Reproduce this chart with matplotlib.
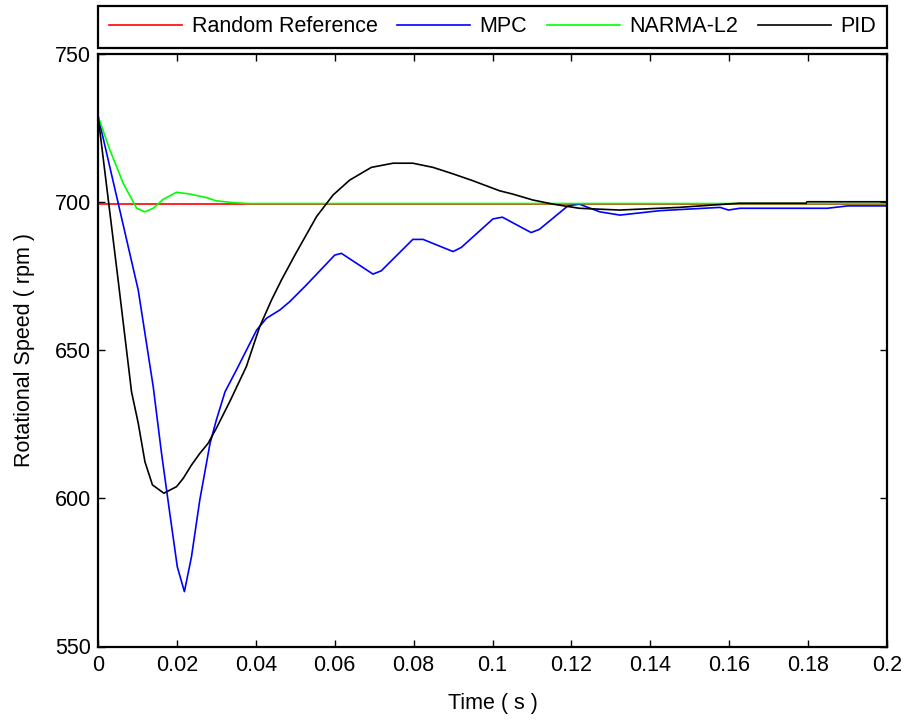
import matplotlib
matplotlib.use("Agg")
import matplotlib.pyplot as plt

plt.rcParams['font.family'] = ['Liberation Sans', 'DejaVu Sans']

# ---- data ----
t_end = 0.2
ref_value = 699.3

narma_t = [0.0, 0.003, 0.0064, 0.0098, 0.0119, 0.014, 0.0165, 0.0199, 0.0233,
           0.0275, 0.030, 0.0343, 0.038, 0.2]
narma_y = [729.0, 717.5, 706.2, 697.8, 696.6, 697.8, 700.8, 703.2, 702.6,
           701.4, 700.3, 699.7, 699.4, 699.4]

pid_t = [0.0, 0.0051, 0.0085, 0.0102, 0.0119, 0.0138, 0.0167, 0.0199, 0.0216,
         0.0237, 0.0258, 0.0279, 0.030, 0.0334, 0.0376, 0.041, 0.044, 0.0465,
         0.0499, 0.0554, 0.0596, 0.0638, 0.0693, 0.0748, 0.0798, 0.0849, 0.09,
         0.095, 0.1018, 0.1051, 0.1102, 0.1153, 0.122, 0.1322, 0.1473, 0.1625,
         0.1795, 0.1797, 0.2]
pid_y = [729.0, 673.6, 635.9, 625.3, 612.3, 604.5, 601.7, 603.9, 606.7,
         611.2, 615.1, 618.5, 623.6, 632.6, 644.4, 657.9, 666.9, 673.6,
         682.0, 695.0, 702.3, 707.3, 711.6, 713.0, 713.0, 711.6, 709.4,
         707.1, 703.7, 702.6, 700.6, 699.2, 697.8, 697.2, 698.1, 699.5,
         699.5, 700.0, 700.0]

mpc_t = [0.0, 0.0102, 0.014, 0.0161, 0.0182, 0.0201, 0.0219, 0.0237, 0.0258,
         0.0284, 0.030, 0.0322, 0.0351, 0.0402, 0.0427, 0.0461, 0.0486, 0.0528,
         0.060, 0.0617, 0.0697, 0.0718, 0.0798, 0.0824, 0.090, 0.0921, 0.1001,
         0.1025, 0.1098, 0.1119, 0.1191, 0.122, 0.1272, 0.1323, 0.1425, 0.1577,
         0.1598, 0.1627, 0.1849, 0.190, 0.2]
mpc_y = [729.0, 670.2, 637.6, 615.2, 594.9, 576.9, 568.5, 580.3, 599.4,
         618.5, 626.4, 635.9, 643.3, 656.7, 660.7, 663.5, 666.3, 671.9,
         682.0, 682.6, 675.6, 676.7, 687.3, 687.3, 683.2, 684.6, 694.2,
         694.8, 689.6, 690.7, 698.6, 699.2, 696.6, 695.5, 697.0, 698.1,
         697.2, 697.8, 697.8, 698.6, 698.6]

x_ticks = [0, 0.02, 0.04, 0.06, 0.08, 0.1, 0.12, 0.14, 0.16, 0.18, 0.2]
x_tick_labels = ["0", "0.02", "0.04", "0.06", "0.08", "0.1", "0.12", "0.14",
                 "0.16", "0.18", "0.2"]
y_ticks = [550, 600, 650, 700, 750]
y_tick_labels = ["550", "600", "650", "700", "750"]

labels = ["Random Reference", "MPC", "NARMA-L2", "PID"]
colors = ["#ff0000", "#0000ff", "#00ff00", "#000000"]

# ---- figure ----
fig = plt.figure(figsize=(9.05, 7.22), dpi=100)
ax = fig.add_axes([98 / 905, 1 - 646.5 / 722, 789 / 905, 593 / 722])

fs = 15.5
lw = 1.2
ax.plot([0.0, t_end], [ref_value, ref_value], color=colors[0], lw=lw, label=labels[0])
ax.plot(mpc_t, mpc_y, color=colors[1], lw=lw, label=labels[1])
ax.plot(narma_t, narma_y, color=colors[2], lw=lw, label=labels[2])
ax.plot(pid_t, pid_y, color=colors[3], lw=lw, label=labels[3])

ax.set_xlim(0, 0.2)
ax.set_ylim(550, 750)
ax.set_xticks(x_ticks)
ax.set_xticklabels(x_tick_labels)
ax.set_yticks(y_ticks)
ax.set_yticklabels(y_tick_labels)
ax.tick_params(direction='in', top=True, right=True, length=5, width=1.0,
               labelsize=fs, colors='black')
ax.tick_params(axis='x', pad=6)
ax.tick_params(axis='y', pad=5)
for s in ax.spines.values():
    s.set_linewidth(1.6)
    s.set_color('black')

ax.set_xlabel("Time ( s )", fontsize=fs, labelpad=12)
ax.set_ylabel("Rotational Speed ( rpm )", fontsize=fs, labelpad=14)

leg = ax.legend(loc='lower left', bbox_to_anchor=(0, 1.009, 1, 0.07),
                mode='expand', ncol=4, borderaxespad=0, fontsize=fs,
                frameon=True, fancybox=False, edgecolor='black',
                handlelength=3.4, handletextpad=0.45, columnspacing=1.0,
                borderpad=0.5)
leg.get_frame().set_linewidth(1.6)
leg.get_frame().set_alpha(1)

fig.savefig("out.png", dpi=100)
